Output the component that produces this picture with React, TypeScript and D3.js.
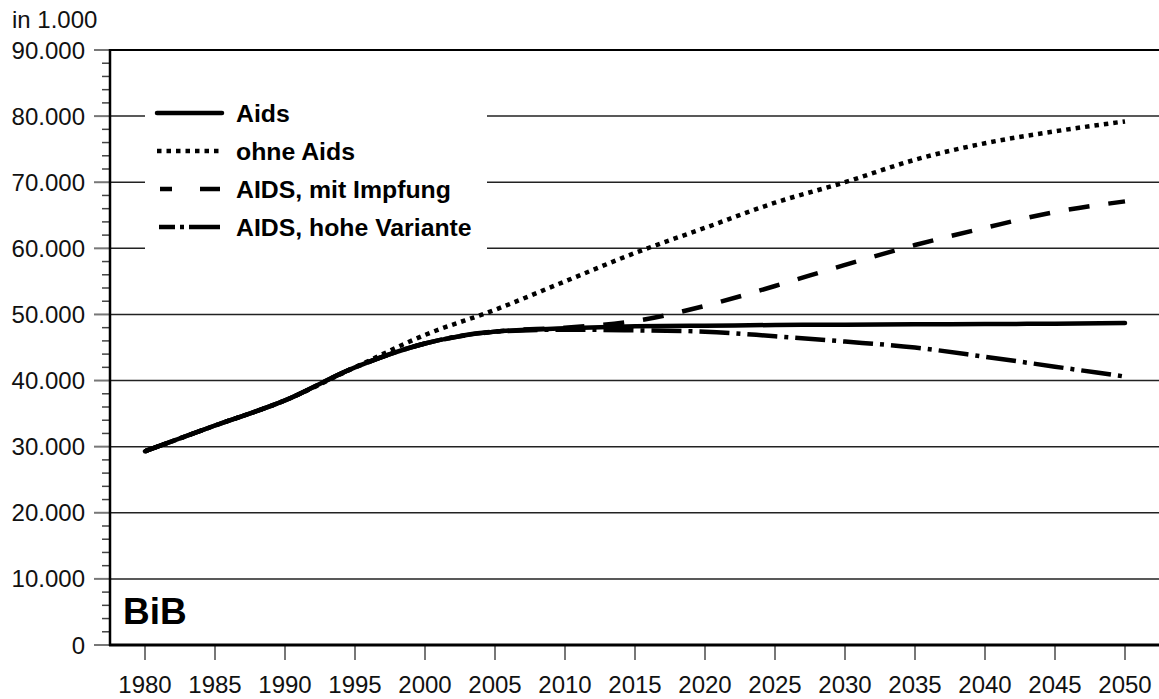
import React from "react";
import * as d3 from "d3";

const years = [1980, 1985, 1990, 1995, 2000, 2005, 2010, 2015, 2020, 2025, 2030, 2035, 2040, 2045, 2050];
const aids = [29300, 33200, 37000, 42000, 45600, 47400, 47900, 48200, 48300, 48400, 48450, 48500, 48550, 48600, 48700];
const ohneAids = [29300, 33200, 37000, 42000, 46900, 50700, 55000, 59300, 63100, 66900, 70000, 73400, 75900, 77700, 79200];
const mitImpfung = [29300, 33200, 37000, 42000, 45600, 47400, 48000, 49000, 51300, 54300, 57500, 60500, 63100, 65500, 67100];
const hoheVariante = [29300, 33200, 37000, 42000, 45600, 47400, 47700, 47600, 47400, 46700, 45900, 45000, 43600, 42100, 40600];
const yTicks = [0, 10000, 20000, 30000, 40000, 50000, 60000, 70000, 80000, 90000];
const legendLabels = ["Aids", "ohne Aids", "AIDS, mit Impfung", "AIDS, hohe Variante"];

const W = 1159;
const H = 699;
const FONT = "'Liberation Sans', Arial, Helvetica, sans-serif";

export default function App() {
  const x = d3.scaleLinear().domain([1980, 2050]).range([145, 1125]);
  const y = d3.scaleLinear().domain([0, 90000]).range([645, 50]);
  const fmt = d3.formatLocale({ decimal: ",", thousands: ".", grouping: [3], currency: ["", "€"] }).format(",");
  const left = 110;
  const line = (vals: number[]) =>
    d3
      .line<number>()
      .x((_, i) => x(years[i]))
      .y((v) => y(v))
      .curve(d3.curveMonotoneX)(vals) as string;

  const series = [
    { vals: ohneAids, dash: "4.5,5", cap: "butt" },
    { vals: mitImpfung, dash: "21,19", cap: "butt" },
    { vals: hoheVariante, dash: "30,7,4,7", cap: "butt" },
    { vals: aids, dash: "", cap: "round" },
  ];

  const minorTicks: number[] = [];
  for (let v = 0; v <= 90000; v += 2000) if (v % 10000 !== 0) minorTicks.push(v);

  const legendRows = [
    { label: legendLabels[0], dash: "", cap: "round", x1: 157, x2: 222 },
    { label: legendLabels[1], dash: "4.5,5", cap: "butt", x1: 157, x2: 221 },
    { label: legendLabels[2], dash: "12,28,20", cap: "butt", x1: 160, x2: 220 },
    { label: legendLabels[3], dash: "16,5,4,5,40", cap: "butt", x1: 159, x2: 220 },
  ];
  const legendY0 = 113;
  const legendStep = 38;

  return (
    <svg width={W} height={H} style={{ position: "absolute", left: 0, top: 0, background: "#fff" }} fontFamily={FONT}>
      <rect x={0} y={0} width={W} height={H} fill="#fff" />
      {yTicks.slice(1, -1).map((t) => (
        <line key={"g" + t} x1={left} x2={W} y1={y(t)} y2={y(t)} stroke="#222" strokeWidth={1.5} />
      ))}
      <line x1={left} x2={W} y1={y(90000)} y2={y(90000)} stroke="#000" strokeWidth={2} />
      {yTicks.map((t) => (
        <line key={"t" + t} x1={94} x2={left} y1={y(t)} y2={y(t)} stroke="#777" strokeWidth={2} />
      ))}
      {minorTicks.map((t) => (
        <line key={"m" + t} x1={102} x2={left} y1={y(t)} y2={y(t)} stroke="#444" strokeWidth={1.5} />
      ))}
      {years.map((yr) => (
        <line key={"xt" + yr} x1={x(yr)} x2={x(yr)} y1={645} y2={660} stroke="#777" strokeWidth={2} />
      ))}
      <line x1={left} x2={left} y1={49} y2={646} stroke="#000" strokeWidth={2.5} />
      <line x1={left - 1} x2={W} y1={645} y2={645} stroke="#000" strokeWidth={3} />
      {yTicks.map((t) => (
        <text key={"yl" + t} x={85} y={y(t) + 8.5} fontSize={24} textAnchor="end" fill="#111">
          {fmt(t)}
        </text>
      ))}
      <text x={12} y={28} fontSize={24} fill="#111">in 1.000</text>
      {years.map((yr) => (
        <text key={"xl" + yr} x={x(yr)} y={693} fontSize={24} textAnchor="middle" fill="#111">
          {yr}
        </text>
      ))}
      <rect x={145} y={96} width={342} height={162} fill="#fff" />
      {legendRows.map((r, i) => (
        <g key={"lg" + i}>
          <line
            x1={r.x1}
            x2={r.x2}
            y1={legendY0 + i * legendStep}
            y2={legendY0 + i * legendStep}
            stroke="#000"
            strokeWidth={4.5}
            strokeDasharray={r.dash || undefined}
            strokeLinecap={r.cap as any}
          />
          <text x={236} y={legendY0 + i * legendStep + 8.5} fontSize={24.8} fontWeight="bold" fill="#000">
            {r.label}
          </text>
        </g>
      ))}
      {series.map((s, i) => (
        <path
          key={"s" + i}
          d={line(s.vals)}
          fill="none"
          stroke="#000"
          strokeWidth={4.5}
          strokeDasharray={s.dash || undefined}
          strokeLinecap={s.cap as any}
          strokeLinejoin="round"
        />
      ))}
      <text x={123} y={624} fontSize={37} fontWeight="bold" fill="#000">BiB</text>
    </svg>
  );
}
